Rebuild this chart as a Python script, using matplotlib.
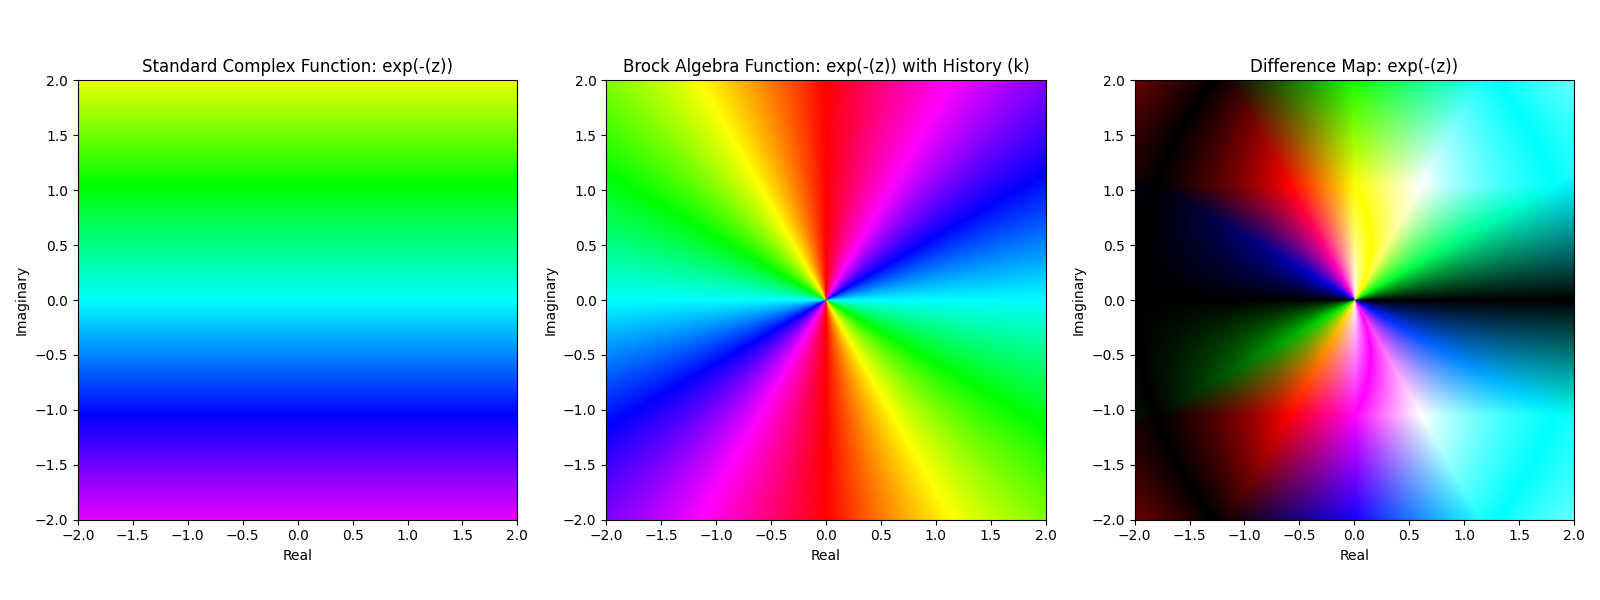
import numpy as np
import matplotlib
matplotlib.use("Agg")
import matplotlib.pyplot as plt
from matplotlib.colors import hsv_to_rgb

# hue read at the ends of the left panel (bottom, top)
imag_ends = [-2.0, 2.0]
imag_hues = [0.818, 0.182]

# hue read around the origin of the middle panel (degrees),
# the wheel goes round once in half a turn
angle_ends = [0, 180]
angle_hues = [0.5, 1.5]

titles = ["Standard Complex Function: exp(-(z))",
          "Brock Algebra Function: exp(-(z)) with History (k)",
          "Difference Map: exp(-(z))"]
ticks = [-2.0, -1.5, -1.0, -0.5, 0.0, 0.5, 1.0, 1.5, 2.0]


def hue_image(hue):
    return hsv_to_rgb(np.dstack([hue % 1, np.ones_like(hue), np.ones_like(hue)]))


xs = np.linspace(-2, 2, 500)
X, Y = np.meshgrid(xs, xs)

angle = np.degrees(np.arctan2(Y, X)) % 180
img1 = hue_image(np.interp(Y, imag_ends, imag_hues))
img2 = hue_image(np.interp(angle, angle_ends, angle_hues))
img3 = np.abs(img1 - img2)

fig, axes = plt.subplots(1, 3, figsize=(16, 6))

for ax, img, title in zip(axes, [img1, img2, img3], titles):
    ax.imshow(img, origin="lower", extent=[-2, 2, -2, 2])
    ax.set_title(title)
    ax.set_xlabel("Real")
    ax.set_ylabel("Imaginary")
    ax.set_xticks(ticks)
    ax.set_yticks(ticks)

plt.tight_layout()
plt.savefig("out.png", dpi=100)
